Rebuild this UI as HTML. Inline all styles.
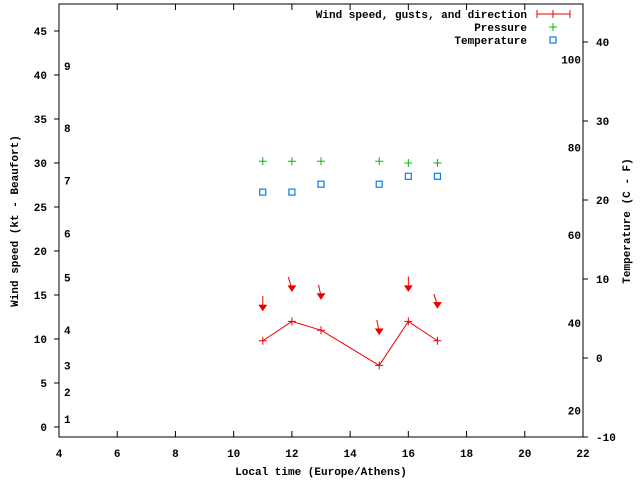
<!DOCTYPE html>
<html><head><meta charset="utf-8"><style>
html,body{margin:0;padding:0;background:#fff;}
svg{display:block;font-family:"Liberation Mono","DejaVu Sans Mono",monospace;font-size:11px;font-weight:bold;}
</style></head><body>
<svg id="chart" width="640" height="480" viewBox="0 0 640 480" xmlns="http://www.w3.org/2000/svg">
<rect x="0" y="0" width="640" height="480" fill="#fff"/>
<g id="axes"></g>
<g id="marks"></g>
<text x="321" y="475" text-anchor="middle">Local time (Europe/Athens)</text>
<text transform="translate(18,221) rotate(-90)" text-anchor="middle">Wind speed (kt - Beaufort)</text>
<text transform="translate(630,221) rotate(-90)" text-anchor="middle">Temperature (C - F)</text>
<g>
<text x="527" y="18" text-anchor="end">Wind speed, gusts, and direction</text>
<g stroke="#e00" stroke-width="1">
<line x1="537" y1="14" x2="570" y2="14"/><line x1="537" y1="10" x2="537" y2="18"/><line x1="570" y1="10" x2="570" y2="18"/><line x1="553" y1="10" x2="553" y2="18"/></g>
<text x="527" y="31" text-anchor="end">Pressure</text>
<g stroke="#0b0" stroke-width="1"><line x1="549" y1="27" x2="557" y2="27"/><line x1="553" y1="23" x2="553" y2="31"/></g>
<text x="527" y="44" text-anchor="end">Temperature</text>
<rect x="550" y="37" width="6" height="6" fill="none" stroke="#0a7ee8" stroke-width="1.2"/>
</g>
</svg>
<script>
const hours = [11, 12, 13, 15, 16, 17];
const windKt = [9.8, 12, 11, 7, 12, 9.8];
const gustKt = [13.3, 15.5, 14.6, 10.6, 15.5, 13.6];
const windDir = [0, 345, 350, 350, 0, 345];
const pressure = [30.2, 30.2, 30.2, 30.2, 30.0, 30.0];
const tempC = [21, 21, 22, 22, 23, 23];
const xTicks = [4, 6, 8, 10, 12, 14, 16, 18, 20, 22];
const yTicks = [0, 5, 10, 15, 20, 25, 30, 35, 40, 45];
const y2Ticks = [-10, 0, 10, 20, 30, 40];
const fTicks = [20, 40, 60, 80, 100];
const beaufort = [1, 2, 3, 4, 5, 6, 7, 8, 9];
const beaufortKt = [0.9, 4, 7, 11, 17, 22, 28, 34, 41];

const L = 59, R = 583, T = 4, B = 437;
const X = h => L + (h - 4) / 18 * (R - L);
const Y = v => 427 - v * 8.8;
const Y2 = c => 358 - c * 7.9;
const Yf = f => Y2((f - 32) * 5 / 9);
const NS = 'http://www.w3.org/2000/svg';
const axes = document.getElementById('axes');
const marks = document.getElementById('marks');
function mk(tag, attrs, parent) {
  const e = document.createElementNS(NS, tag);
  for (const k in attrs) e.setAttribute(k, attrs[k]);
  parent.appendChild(e);
  return e;
}
const frame = mk('rect', {x: L, y: T, width: R - L, height: B - T, fill: 'none', stroke: '#000', 'stroke-width': 1}, axes);


xTicks.forEach(t => {
  const x = X(t);
  const l = mk('path', {d: `M${x} ${B}v-6M${x} ${T}v6`, stroke: '#000'}, axes);
  
  
  const tx = mk('text', {x: x, y: 457, 'text-anchor': 'middle'}, axes);
  tx.textContent = t;
  
  
});
yTicks.forEach(t => {
  const y = Y(t);
  const l = mk('path', {d: `M${L} ${y}h-5`, stroke: '#000'}, axes);
  
  
  const tx = mk('text', {x: 47, y: y + 4, 'text-anchor': 'end'}, axes);
  tx.textContent = t;
  
  
});
y2Ticks.forEach(t => {
  const y = Y2(t);
  const l = mk('path', {d: `M${R} ${y}h5`, stroke: '#000'}, axes);
  
  
  const tx = mk('text', {x: 596, y: y + 4}, axes);
  tx.textContent = t;
  
  
});
fTicks.forEach(t => {
  const tx = mk('text', {x: 581, y: Yf(t) + 4, 'text-anchor': 'end'}, axes);
  tx.textContent = t;
  
  
});
beaufort.forEach((b, i) => {
  const tx = mk('text', {x: 64, y: Y(beaufortKt[i]) + 4}, axes);
  tx.textContent = b;
  
  
});
const pl = mk('polyline', {points: hours.map((h, i) => X(h) + ',' + Y(windKt[i])).join(' '), fill: 'none', stroke: '#e00', 'stroke-width': 1}, marks);


hours.forEach((h, i) => {
  const x = X(h), y = Y(windKt[i]);
  const p = mk('path', {d: `M${x-4} ${y}h8M${x} ${y-4}v8`, stroke: '#e00'}, marks);
  
  
  const gy = Y(gustKt[i]);
  const a = windDir[i] * Math.PI / 180;
  const dx = Math.sin(a) * 14, dy = Math.cos(a) * 14;
  const g = mk('g', {stroke: '#e00', fill: '#e00'}, marks);
  
  
  mk('line', {x1: x + dx, y1: gy - dy, x2: x, y2: gy - 2}, g);
  mk('polygon', {points: `${x-4},${gy-5} ${x+4},${gy-5} ${x},${gy+1}`, 'stroke-width': 0.5}, g);
  const py = Y(pressure[i]);
  const pp = mk('path', {d: `M${x-4} ${py}h8M${x} ${py-4}v8`, stroke: '#0b0'}, marks);
  
  
  const ty = Y2(tempC[i]);
  const r = mk('rect', {x: x - 3, y: ty - 3, width: 6, height: 6, fill: 'none', stroke: '#0a7ee8', 'stroke-width': 1.2}, marks);
  
  
});
</script>
</body></html>
